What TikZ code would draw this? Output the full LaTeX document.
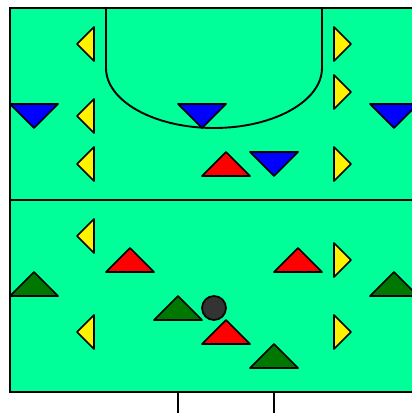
\documentclass[tikz,border=0pt]{standalone}
\usepackage{xcolor}
\definecolor{pitch}{HTML}{00FF99}
\definecolor{ballgrey}{HTML}{333333}
\definecolor{darkgreen}{HTML}{007700}

\begin{document}
\begin{tikzpicture}[
    x=1pt, y=-1pt,
    line/.style={draw=black, line width=1.9pt},
    marker/.style={draw=black, line width=1.7pt, line join=round},
    attack/.style={marker, fill=red},
    defend/.style={marker, fill=blue},
    mate/.style={marker, fill=darkgreen},
    cone/.style={marker, fill=yellow},
]
\clip (0,0) rectangle (412,413);
% Pitch with half way line.
\fill[pitch] (10,8) rectangle (418,392);
\draw[line] (10,8) rectangle (418,392);
\draw[line] (10,200) -- (418,200);

% Penalty area at the top, goal posts at the bottom.
\draw[line] (106,8) -- (106,68) arc[start angle=180, end angle=0, x radius=108, y radius=60] -- (322,8);
\draw[line] (178,392) -- (178,413);
\draw[line] (274,392) -- (274,413);

% Cones pointing outwards.
\foreach \y in {44,116,164,236,332} {
  \draw[cone] (94,\y-17) -- (77,\y) -- (94,\y+17) -- cycle;
}
\foreach \y in {44,92,164,260,332} {
  \draw[cone] (334,\y-17) -- (351,\y) -- (334,\y+17) -- cycle;
}

% Ball.
\draw[marker, fill=ballgrey] (214,308) circle[radius=12];

% Players: apex of each triangle is listed.
\foreach \x/\y in {34/104,202/104,394/104,274/152} {
  \draw[defend] (\x-24,\y) -- (\x+24,\y) -- (\x,\y+24) -- cycle;
}
\foreach \x/\y in {226/152,130/248,298/248,226/320} {
  \draw[attack] (\x,\y) -- (\x+24,\y+24) -- (\x-24,\y+24) -- cycle;
}
\foreach \x/\y in {34/272,178/296,394/272,274/344} {
  \draw[mate] (\x,\y) -- (\x+24,\y+24) -- (\x-24,\y+24) -- cycle;
}
\end{tikzpicture}
\end{document}
